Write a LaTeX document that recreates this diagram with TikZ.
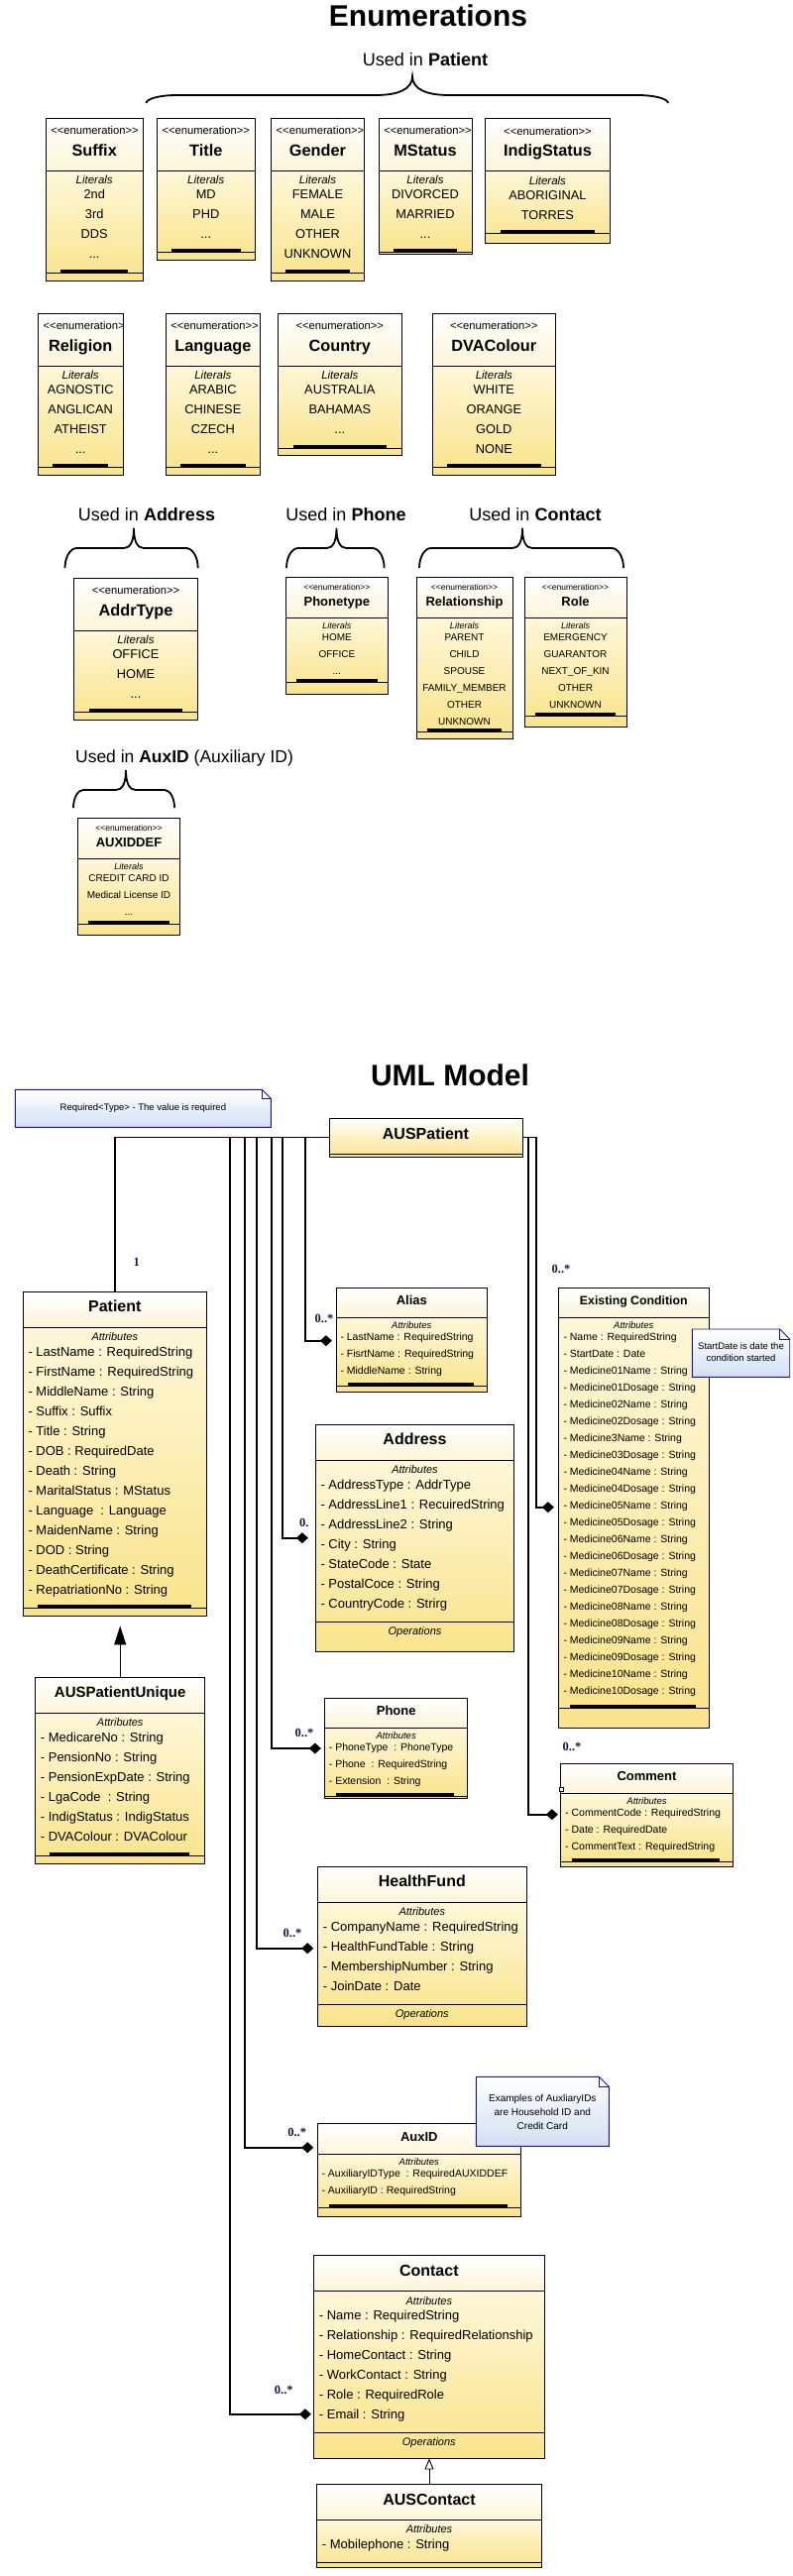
\documentclass[tikz,border=0pt]{standalone}
\usepackage{fontspec}
\setmainfont{Liberation Sans}
\newfontfamily\multfont{Liberation Serif}
\usetikzlibrary{fit,arrows.meta}

\definecolor{hdrB}{RGB}{252,245,216}
\definecolor{bodyT}{RGB}{254,247,216}
\definecolor{bodyB}{RGB}{249,228,138}
\definecolor{noteB}{RGB}{210,223,242}
\definecolor{noteC}{RGB}{24,24,140}
\definecolor{multC}{RGB}{22,22,80}

\newcommand\fsz[1]{\fontsize{#1}{#1}\selectfont}
\newcommand\tdots{...}

\tikzset{
 boxframe/.style={draw=black,line width=0.9pt,inner sep=0pt},
 dline/.style={line width=0.9pt},
 txt/.style={inner sep=0pt,anchor=mid},
 bigtitle/.style={txt,font=\fsz{30}\bfseries},
 usedin/.style={txt,font=\fsz{18}},
 bstereo/.style={txt,font=\fsz{11.2}},
 sstereo/.style={txt,font=\fsz{8.5}},
 bename/.style={txt,font=\fsz{16.3}\bfseries},
 sename/.style={txt,font=\fsz{13}\bfseries},
 blit/.style={txt,font=\fsz{11.5}\itshape},
 slit/.style={txt,font=\fsz{9}\itshape},
 beitem/.style={txt,font=\fsz{12.8}},
 seitem/.style={txt,font=\fsz{10}},
 bcname/.style={txt,font=\fsz{16}\bfseries},
 mcname/.style={txt,font=\fsz{15}\bfseries},
 scname/.style={txt,font=\fsz{13}\bfseries},
 eccname/.style={txt,font=\fsz{12.3}\bfseries},
 batt/.style={txt,font=\fsz{11}\itshape},
 satt/.style={txt,font=\fsz{9.5}\itshape},
 bitem/.style={inner sep=0pt,anchor=mid west,font=\fsz{13}},
 sitem/.style={inner sep=0pt,anchor=mid west,font=\fsz{10.5}},
 bops/.style={txt,font=\fsz{11}\itshape},
 mult/.style={txt,font=\multfont\fsz{12.5}\bfseries,text=multC},
 bracel/.style={line width=1.8pt},
 comp/.style={line width=1.7pt,-{Diamond[length=12pt,width=11pt]}},
 assoc/.style={line width=1.7pt},
 genP/.style={line width=0.9pt,-{Triangle[length=19pt,width=12pt]}},
 genC/.style={line width=0.9pt,-{Triangle[open,length=11pt,width=9pt]}},
 notebox/.style={draw=noteC,line width=0.9pt,top color=white,bottom color=noteB},
 ntext/.style={inner sep=0pt,anchor=center,align=center},
}

% brace: x1 x2 xm ytip yline ypeak endext midext
\newcommand\ubrace[8]{%
 \draw[bracel] (#1,#4) .. controls (#1,{#4-0.55*(#4-#5)}) and ({#1+0.45*#7},#5) .. ({#1+#7},#5)
  -- ({#3-#8},#5) .. controls ({#3-0.4*#8},#5) and (#3,{#5-0.3*(#5-#6)}) .. (#3,#6)
  .. controls (#3,{#5-0.3*(#5-#6)}) and ({#3+0.4*#8},#5) .. ({#3+#8},#5)
  -- ({#2-#7},#5) .. controls ({#2-0.45*#7},#5) and (#2,{#4-0.55*(#4-#5)}) .. (#2,#4);
}

% big enumeration: name x1 ytop x2 ybar ybot title items
\newcommand\bigenum[8]{%
 \pgfmathsetmacro\eYd{#3+53}%
 \pgfmathsetmacro\eXm{(#2+#4)/2}%
 \pgfmathsetmacro\eXs{max(#2+49.5,\eXm)}%
 \shade[top color=white,bottom color=hdrB] (#2,#3) rectangle (#4,\eYd);
 \shade[top color=bodyT,bottom color=bodyB] (#2,\eYd) rectangle (#4,#6);
 \node[boxframe,fit={(#2,#3) (#4,#6)}] (#1) {};
 \draw[dline] (#2,\eYd) -- (#4,\eYd);
 \begin{scope}
  \clip (#2,#3) rectangle (#4,\eYd);
  \node[bstereo] (#1-st) at (\eXs,#3+14) {<{}<enumeration>{}>};
 \end{scope}
 \node[bename] (#1-nm) at (\eXm,#3+35.5) {#7};
 \node[blit] (#1-lit) at (\eXm,\eYd+11) {Literals};
 \foreach \itm [count=\i] in {#8} \node[beitem] (#1-\i) at (\eXm,\eYd+6+20*\i) {\itm};
 \fill ({#2+15},{#5-3.5}) rectangle ({#4-15},#5);
 \draw[dline] (#2,#5) -- (#4,#5);
}

% small enumeration
\newcommand\smallenum[8]{%
 \pgfmathsetmacro\eYd{#3+41}%
 \pgfmathsetmacro\eXm{(#2+#4)/2}%
 \shade[top color=white,bottom color=hdrB] (#2,#3) rectangle (#4,\eYd);
 \shade[top color=bodyT,bottom color=bodyB] (#2,\eYd) rectangle (#4,#6);
 \node[boxframe,fit={(#2,#3) (#4,#6)}] (#1) {};
 \draw[dline] (#2,\eYd) -- (#4,\eYd);
 \node[sstereo] (#1-st) at (\eXm,#3+11) {<{}<enumeration>{}>};
 \node[sename] (#1-nm) at (\eXm,#3+27) {#7};
 \node[slit] (#1-lit) at (\eXm,\eYd+9) {Literals};
 \foreach \itm [count=\i] in {#8} \node[seitem] (#1-\i) at (\eXm,\eYd+4+17*\i) {\itm};
 \fill ({#2+11},{#5-3.5}) rectangle ({#4-11},#5);
 \draw[dline] (#2,#5) -- (#4,#5);
}

% class box: name x1 ytop x2 ydiv ybot title namestyle
\newcommand\clsbox[8]{%
 \shade[top color=white,bottom color=hdrB] (#2,#3) rectangle (#4,#5);
 \shade[top color=bodyT,bottom color=bodyB] (#2,#5) rectangle (#4,#6);
 \node[boxframe,fit={(#2,#3) (#4,#6)}] (#1) {};
 \draw[dline] (#2,#5) -- (#4,#5);
 \node[#8] (#1-name) at ({(#2+#4)/2},{(#3+#5)/2}) {#7};
}
\newcommand\battrs[5]{%
 \node[batt] (#1-attr) at (#2,{#3+10.7}) {Attributes};
 \foreach \itm [count=\i] in {#5} \node[bitem] (#1-a\i) at (#4,{#3+6.2+20*\i}) {\itm};
}
\newcommand\sattrs[5]{%
 \node[satt] (#1-attr) at (#2,{#3+8.4}) {Attributes};
 \foreach \itm [count=\i] in {#5} \node[sitem] (#1-a\i) at (#4,{#3+3.4+17*\i}) {\itm};
}
\newcommand\clsbar[5]{%
 \fill ({#1+#4},{#3-3.5}) rectangle ({#2-#5},#3);
 \draw[dline] (#1,#3) -- (#2,#3);
}
\newcommand\clsops[4]{%
 \draw[dline] (#2,#4) -- (#3,#4);
 \node[bops] (#1-ops) at ({(#2+#3)/2},{#4+11}) {Operations};
}
% note: x1 y1 x2 y2 fold
\newcommand\notepath[5]{%
 \shadedraw[notebox] (#1,#2) -- ({#3-#5},#2) -- (#3,{#2+#5}) -- (#3,#4) -- (#1,#4) -- cycle;
 \draw[draw=noteC,line width=0.6pt] ({#3-#5},#2) -- ({#3-#5},{#2+#5}) -- (#3,{#2+#5});
}

\begin{document}
\begin{tikzpicture}[x=1pt,y=-1pt]
\useasboundingbox (0,0) rectangle (800,2599);
\fill[white] (0,0) rectangle (800,2599);

%================ ENUMERATIONS =================
\node[bigtitle] (enumtitle) at (432,24) {Enumerations};
\node[usedin] (uPat) at (429,64) {Used in \textbf{Patient}};
\ubrace{147.5}{674}{416}{104}{96}{77}{31}{37}

\bigenum{suffix}{46}{119}{144.4}{275}{283}{Suffix}{2nd,3rd,DDS,\tdots}
\bigenum{title}{158}{119}{257.5}{254}{262}{Title}{MD,PHD,\tdots}
\bigenum{gender}{273.4}{119}{367.6}{275}{283}{Gender}{FEMALE,MALE,OTHER,UNKNOWN}
\bigenum{mstatus}{382}{119}{476}{254}{256.5}{MStatus}{DIVORCED,MARRIED,\tdots}
\bigenum{indig}{489.5}{119.5}{615.4}{235.3}{245.7}{IndigStatus}{ABORIGINAL,TORRES}

\bigenum{religion}{38.4}{316}{124}{471.7}{479.3}{Religion}{AGNOSTIC,ANGLICAN,ATHEIST,\tdots}
\bigenum{language}{167}{316}{262.7}{471.7}{479.3}{Language}{ARABIC,CHINESE,CZECH,\tdots}
\bigenum{country}{280.6}{316}{405}{452.3}{459.3}{Country}{AUSTRALIA,BAHAMAS,\tdots}
\bigenum{dvacolour}{436}{316}{560.6}{471.7}{479.3}{DVAColour}{WHITE,ORANGE,GOLD,NONE}

\node[usedin] (uAddr) at (148,523) {Used in \textbf{Address}};
\node[usedin] (uPhone) at (349,523) {Used in \textbf{Phone}};
\node[usedin] (uContact) at (540,523) {Used in \textbf{Contact}};
\ubrace{65.5}{199.7}{135}{573}{553}{533}{12}{10}
\ubrace{289}{387.6}{339.5}{573}{553}{533}{12}{10}
\ubrace{423}{629}{527}{573}{553}{533}{12}{10}

\bigenum{addrtype}{74.8}{583}{199.2}{718.3}{726.7}{AddrType}{OFFICE,HOME,\tdots}
\smallenum{phonetype}{288}{582.3}{391.7}{688.7}{700.3}{Phonetype}{HOME,OFFICE,\tdots}
\smallenum{relationship}{420}{582.3}{517}{738.7}{745.7}{Relationship}{PARENT,CHILD,SPOUSE,FAMILY\_MEMBER,OTHER,UNKNOWN}
\smallenum{role}{529}{582.3}{632}{722}{733.3}{Role}{EMERGENCY,GUARANTOR,NEXT\_OF\_KIN,OTHER,UNKNOWN}

\node[usedin,font=\fsz{17.5}] (uAux) at (186,767) {Used in \textbf{AuxID} (Auxiliary ID)};
\ubrace{74}{176}{127}{815}{797}{777}{10}{10}
\smallenum{auxiddef}{78.3}{825}{181.7}{932.3}{943.3}{AUXIDDEF}{CREDIT CARD ID,Medical License ID,\tdots}

%================ UML MODEL =================
\node[bigtitle] (umltitle) at (454,1093) {UML Model};

\notepath{15.4}{1099.3}{273.4}{1137.3}{9}
\node[ntext,font=\fsz{9.5}] (note1) at (144.4,1118) {Required<Type> - The value is required};

% AUSPatient
\shade[top color=white,bottom color=bodyB] (332,1128) rectangle (527,1167);
\node[boxframe,fit={(332,1128) (527,1167)}] (auspat) {};
\draw[dline] (332,1164) -- (527,1164);
\node[bcname] (auspat-name) at (429.5,1147) {AUSPatient};

% Patient
\clsbox{patient}{23.3}{1303.3}{208.3}{1339.3}{1630}{Patient}{bcname}
\battrs{patient}{115.8}{1339.3}{28.3}{%
- LastName : RequiredString,%
- FirstName : RequiredString,%
- MiddleName : String,%
- Suffix : Suffix,%
- Title : String,%
- DOB : RequiredDate,%
- Death : String,%
- MaritalStatus : MStatus,%
- Language\ \ : Language,%
- MaidenName : String,%
- DOD : String,%
- DeathCertificate : String,%
- RepatriationNo : String}
\clsbar{23.3}{208.3}{1622.3}{15}{15.6}

% AUSPatientUnique
\clsbox{ausunique}{35.7}{1692.3}{206.7}{1728.3}{1880}{AUSPatientUnique}{mcname}
\battrs{ausunique}{121.2}{1728.3}{40.7}{%
- MedicareNo : String,%
- PensionNo : String,%
- PensionExpDate : String,%
- LgaCode\ \ : String,%
- IndigStatus : IndigStatus,%
- DVAColour : DVAColour}
\clsbar{35.7}{206.7}{1872.3}{14.3}{15.7}

% Alias
\clsbox{alias}{339.3}{1299}{491.3}{1329.3}{1404.3}{Alias}{scname}
\sattrs{alias}{415.3}{1329.3}{343.3}{%
- LastName : RequiredString,%
- FisrtName : RequiredString,%
- MiddleName : String}
\clsbar{339.3}{491.3}{1398.7}{11.7}{13.6}

% Address
\clsbox{address}{318.3}{1437.3}{518.7}{1473.3}{1666.3}{Address}{bcname}
\battrs{address}{418.5}{1473.3}{323.3}{%
- AddressType : AddrType,%
- AddressLine1 : RecuiredString,%
- AddressLine2 : String,%
- City : String,%
- StateCode : State,%
- PostalCoce : String,%
- CountryCode : Strirg}
\clsops{address}{318.3}{518.7}{1636.3}

% Existing Condition
\clsbox{excond}{563.3}{1299}{715.3}{1329.3}{1743.3}{Existing Condition}{eccname}
\sattrs{excond}{639.3}{1329.3}{568.3}{%
- Name : RequiredString,%
- StartDate : Date,%
- Medicine01Name : String,%
- Medicine01Dosage : String,%
- Medicine02Name : String,%
- Medicine02Dosage : String,%
- Medicine3Name : String,%
- Medicine03Dosage : String,%
- Medicine04Name : String,%
- Medicine04Dosage : String,%
- Medicine05Name : String,%
- Medicine05Dosage : String,%
- Medicine06Name : String,%
- Medicine06Dosage : String,%
- Medicine07Name : String,%
- Medicine07Dosage : String,%
- Medicine08Name : String,%
- Medicine08Dosage : String,%
- Medicine09Name : String,%
- Medicine09Dosage : String,%
- Medicine10Name : String,%
- Medicine10Dosage : String}
\clsbar{563.3}{715.3}{1723.3}{11.7}{13.6}

\notepath{698.3}{1341}{796.7}{1389.3}{10}
\node[ntext,font=\fontsize{9.5}{12}\selectfont] (note2) at (747.5,1364.5) {StartDate is date the\\condition started};

% Comment
\clsbox{comment}{565.7}{1779.3}{739.3}{1809.3}{1883.3}{Comment}{scname}
\sattrs{comment}{652.5}{1809.3}{570}{%
- CommentCode : RequiredString,%
- Date : RequiredDate,%
- CommentText : RequiredString}
\clsbar{565.7}{739.3}{1878.3}{11}{13.6}
\draw[fill=white,line width=0.5pt] (564.7,1803.7) rectangle (568.7,1807.7);

% Phone
\clsbox{phone}{327.7}{1713.3}{471.7}{1743.3}{1814.3}{Phone}{scname}
\sattrs{phone}{399.7}{1743.3}{331.7}{%
- PhoneType\ \ : PhoneType,%
- Phone\ \ : RequiredString,%
- Extension\ \ : String}
\clsbar{327.7}{471.7}{1812.7}{11.3}{14}

% HealthFund
\clsbox{healthfund}{320.3}{1883.3}{531.3}{1919.3}{2044.3}{HealthFund}{bcname}
\battrs{healthfund}{425.8}{1919.3}{325.7}{%
- CompanyName : RequiredString,%
- HealthFundTable : String,%
- MembershipNumber : String,%
- JoinDate : Date}
\clsops{healthfund}{320.3}{531.3}{2022.3}

% AuxID
\clsbox{auxid}{320.3}{2142.3}{525.3}{2173.3}{2236}{AuxID}{scname}
\sattrs{auxid}{422.8}{2173.3}{324.3}{%
- AuxiliaryIDType\ \ : RequiredAUXIDDEF,%
- AuxiliaryID : RequiredString}
\clsbar{320.3}{525.3}{2227.3}{12}{13.6}

\notepath{480.3}{2095.3}{614.3}{2165.3}{10}
\node[ntext,font=\fontsize{10}{14}\selectfont] (note3) at (547.3,2131) {Examples of AuxliaryIDs\\are Household ID and\\Credit Card};

% Contact
\clsbox{contact}{316.3}{2275.7}{549.3}{2311.7}{2480}{Contact}{bcname}
\battrs{contact}{432.8}{2311.7}{321.7}{%
- Name : RequiredString,%
- Relationship : RequiredRelationship,%
- HomeContact : String,%
- WorkContact : String,%
- Role : RequiredRole,%
- Email : String}
\clsops{contact}{316.3}{549.3}{2454.3}

% AUSContact
\clsbox{auscontact}{319.3}{2506.7}{546.7}{2542.3}{2590}{AUSContact}{bcname}
\battrs{auscontact}{433}{2542.3}{324.7}{- Mobilephone : String}
\draw[dline] (319.3,2585) -- (546.7,2585);

%================ CONNECTORS =================
\coordinate (kAlias) at (307.7,1352.7);
\coordinate (kAddr) at (285,1551.7);
\coordinate (kPhone) at (274,1764);
\coordinate (kHF) at (259.3,1965.7);
\coordinate (kAux) at (246.7,2166.7);
\coordinate (kContact) at (231.7,2435.7);
\coordinate (kEC) at (540.7,1520.7);
\coordinate (kComment) at (533.3,1830.7);

\draw[assoc] (auspat.west) -| (patient.north);
\draw[comp,shorten >=4pt] (auspat.west) -| (kAlias) -- (kAlias -| alias.west);
\draw[comp,shorten >=7pt] (auspat.west) -| (kAddr) -- (kAddr -| address.west);
\draw[comp,shorten >=3.4pt] (auspat.west) -| (kPhone) -- (kPhone -| phone.west);
\draw[comp,shorten >=3.6pt] (auspat.west) -| (kHF) -- (kHF -| healthfund.west);
\draw[comp,shorten >=3.6pt] (auspat.west) -| (kAux) -- (kAux -| auxid.west);
\draw[comp,shorten >=2pt] (auspat.west) -| (kContact) -- (kContact -| contact.west);
\draw[comp,shorten >=4pt] (auspat.east) -| (kEC) -- (kEC -| excond.west);
\draw[comp,shorten >=2.4pt] (auspat.east) -| (kComment) -- (kComment -| comment.west);

\draw[genP,shorten >=10pt] (ausunique.north) -- (ausunique.north |- patient.south);
\draw[genC] (auscontact.north) -- (auscontact.north |- contact.south);

% multiplicities
\node[mult] (m-pat) at (137.7,1275) {1};
\node[mult] (m-alias) at (327,1332) {0..*};
\node[mult] (m-addr) at (306.7,1538.3) {0.};
\node[mult] (m-phone) at (307,1750) {0..*};
\node[mult] (m-hf) at (295,1951.7) {0..*};
\node[mult] (m-aux) at (299.7,2153.3) {0..*};
\node[mult] (m-contact) at (286.3,2413.3) {0..*};
\node[mult] (m-ec) at (566,1281.7) {0..*};
\node[mult] (m-comment) at (577,1764) {0..*};

\end{tikzpicture}
\end{document}
